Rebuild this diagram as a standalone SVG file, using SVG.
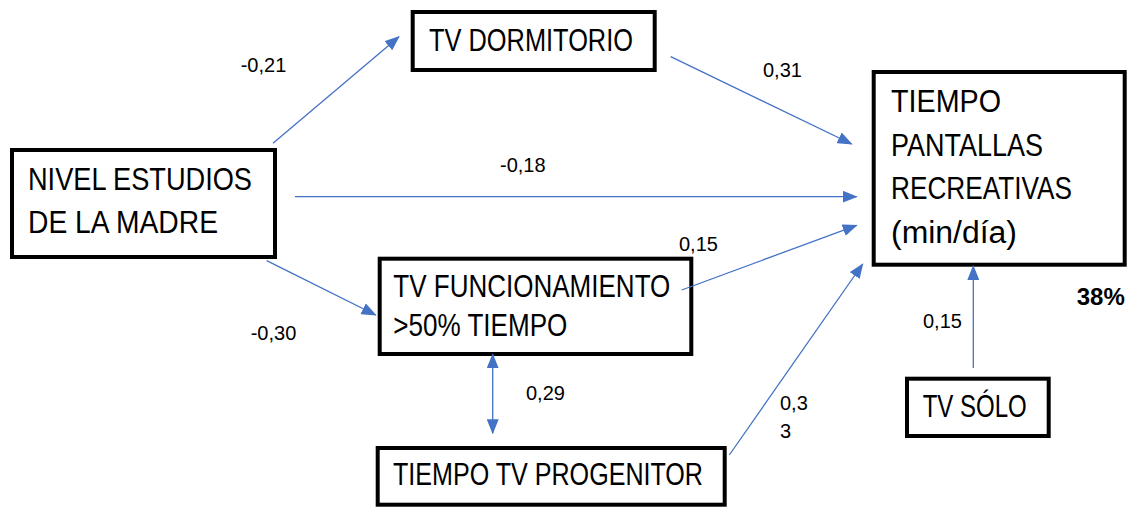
<svg xmlns="http://www.w3.org/2000/svg" width="1135" height="508" viewBox="0 0 1135 508">
<style>
.box{fill:#fff;stroke:#000;stroke-width:4;}
.t{font-family:"Liberation Sans",Arial,sans-serif;font-size:31px;fill:#000;}
.lbl{font-family:"Liberation Sans",Arial,sans-serif;font-size:20px;fill:#000;}
.pct{font-family:"Liberation Sans",Arial,sans-serif;font-size:24px;font-weight:bold;fill:#000;}
.c{stroke:#4472C4;stroke-width:1.3;fill:none;marker-end:url(#ah);}
</style>
<defs>
<marker id="ah" markerUnits="userSpaceOnUse" markerWidth="15" markerHeight="12" refX="14" refY="6" orient="auto-start-reverse">
<path d="M0,0 L15,6 L0,12 z" fill="#4472C4"/>
</marker>
</defs>
<rect width="1135" height="508" fill="#fff"/>
<g id="nivel">
<rect class="box" x="12" y="150" width="263" height="107"/>
<text class="t" x="28" y="190" textLength="224" lengthAdjust="spacingAndGlyphs">NIVEL ESTUDIOS</text>
<text class="t" x="28" y="233" textLength="190" lengthAdjust="spacingAndGlyphs">DE LA MADRE</text>
</g>
<g id="dormitorio">
<rect class="box" x="412.7" y="12" width="242" height="58"/>
<text class="t" x="429" y="51" textLength="204" lengthAdjust="spacingAndGlyphs">TV DORMITORIO</text>
</g>
<g id="tiempo">
<rect class="box" x="873.7" y="72" width="251" height="192.7"/>
<text class="t" x="891" y="111.7" textLength="110" lengthAdjust="spacingAndGlyphs">TIEMPO</text>
<text class="t" x="891" y="156" textLength="152" lengthAdjust="spacingAndGlyphs">PANTALLAS</text>
<text class="t" x="891" y="199" textLength="181" lengthAdjust="spacingAndGlyphs">RECREATIVAS</text>
<text class="t" x="891" y="242.7" textLength="126" lengthAdjust="spacingAndGlyphs">(min/día)</text>
</g>
<g id="funcionamiento">
<rect class="box" x="379.7" y="258.7" width="311.6" height="95.3"/>
<text class="t" x="393.3" y="296.7" textLength="277" lengthAdjust="spacingAndGlyphs">TV FUNCIONAMIENTO</text>
<text class="t" x="393.3" y="336" textLength="174" lengthAdjust="spacingAndGlyphs">&gt;50% TIEMPO</text>
</g>
<g id="progenitor">
<rect class="box" x="377.7" y="448" width="347" height="56.7"/>
<text class="t" x="393" y="485" textLength="310" lengthAdjust="spacingAndGlyphs">TIEMPO TV PROGENITOR</text>
</g>
<g id="solo">
<rect class="box" x="907" y="378.7" width="141.7" height="57.3"/>
<text class="t" x="922.7" y="416.7" textLength="104" lengthAdjust="spacingAndGlyphs">TV SÓLO</text>
</g>
<g id="connectors">
<line class="c" x1="273" y1="143.3" x2="399" y2="36.7"/>
<line class="c" x1="295" y1="196.7" x2="856.7" y2="196.7"/>
<line class="c" x1="670.7" y1="56.7" x2="851.7" y2="144"/>
<line class="c" x1="266.7" y1="260.7" x2="375.7" y2="315"/>
<line class="c" x1="681.7" y1="290" x2="856.7" y2="225.3"/>
<line class="c" x1="729.3" y1="455" x2="862.7" y2="264"/>
<line class="c" x1="973.3" y1="368" x2="973.3" y2="266"/>
<line class="c" x1="492.7" y1="354.3" x2="492.7" y2="433.3" marker-start="url(#ah)"/>
</g>
<g id="labels">
<text class="lbl" x="240.7" y="71.7">-0,21</text>
<text class="lbl" x="500" y="171.7">-0,18</text>
<text class="lbl" x="763" y="77">0,31</text>
<text class="lbl" x="679" y="250.7">0,15</text>
<text class="lbl" x="250.7" y="340">-0,30</text>
<text class="lbl" x="526" y="400">0,29</text>
<text class="lbl" x="780" y="410">0,3</text>
<text class="lbl" x="780" y="438">3</text>
<text class="lbl" x="923" y="328">0,15</text>
<text class="pct" x="1076.7" y="305">38%</text>
</g>
</svg>
